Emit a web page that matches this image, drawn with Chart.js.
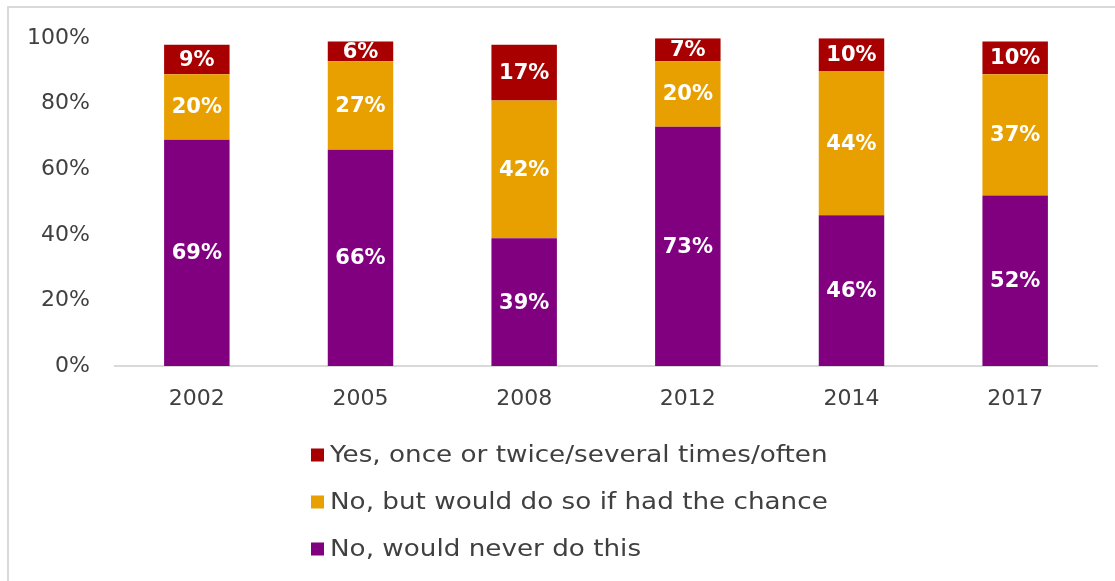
<!DOCTYPE html>
<html>
<head>
<meta charset="utf-8">
<script src="https://cdn.jsdelivr.net/npm/chart.js@4/dist/chart.umd.min.js"></script>
<style>
  html, body { margin: 0; padding: 0; background: #fff; overflow: hidden; }
  #wrap { position: relative; width: 1115px; height: 581px; overflow: hidden; }
  .edge { position: absolute; background: #d9d9d9; pointer-events: none; }
  #edgeLeft { left: 7px; top: 6px; width: 2px; height: 600px; }
  #edgeTop { left: 7px; top: 6px; width: 1200px; height: 2px; }
  canvas { position: absolute; left: 0; top: 0; }
</style>
</head>
<body>
<div id="wrap">
  <canvas id="chart" width="1115" height="581"></canvas>
  <div class="edge" id="edgeLeft"></div>
  <div class="edge" id="edgeTop"></div>
</div>
<script>
const years = ['2002', '2005', '2008', '2012', '2014', '2017'];
const neverValues = [69, 66, 39, 73, 46, 52];
const wouldValues = [20, 27, 42, 20, 44, 37];
const yesValues = [9, 6, 17, 7, 10, 10];
const yTicks = [0, 20, 40, 60, 80, 100];

const FONT = 'DejaVu Sans';
const TEXT = '#404040';

// White value labels centred inside each stacked segment
const segmentLabels = {
  id: 'segmentLabels',
  afterDatasetsDraw(chart) {
    const ctx = chart.ctx;
    ctx.save();
    ctx.fillStyle = '#ffffff';
    ctx.font = 'bold 21px "' + FONT + '"';
    ctx.textAlign = 'center';
    ctx.textBaseline = 'middle';
    chart.data.datasets.forEach((ds, i) => {
      const meta = chart.getDatasetMeta(i);
      meta.data.forEach((bar, j) => {
        const cy = (bar.y + bar.base) / 2;
        ctx.fillText(ds.data[j] + '%', bar.x, cy + 1);
      });
    });
    ctx.restore();
  }
};

// Single-column legend under the axis, top series first; text is drawn
// slightly widened to give the broad, round look of a geometric face
const columnLegend = {
  id: 'columnLegend',
  afterDraw(chart) {
    const ctx = chart.ctx;
    const ds = chart.data.datasets.slice().reverse();
    const x0 = 311, y0 = 455, gap = 47, box = 13, stretch = 1.14;
    ctx.save();
    ctx.font = '23px "' + FONT + '"';
    ctx.textBaseline = 'middle';
    ctx.textAlign = 'left';
    ds.forEach((d, i) => {
      const y = y0 + i * gap;
      ctx.fillStyle = d.backgroundColor;
      ctx.fillRect(x0, y - box / 2, box, box);
      ctx.save();
      ctx.translate(x0 + box + 6, y + 1);
      ctx.scale(stretch, 1);
      ctx.fillStyle = TEXT;
      ctx.fillText(d.label, 0, 0);
      ctx.restore();
    });
    ctx.restore();
  }
};

new Chart(document.getElementById('chart'), {
  type: 'bar',
  data: {
    labels: years,
    datasets: [
      { label: 'No, would never do this', data: neverValues, backgroundColor: '#800080' },
      { label: 'No, but would do so if had the chance', data: wouldValues, backgroundColor: '#E8A000' },
      { label: 'Yes, once or twice/several times/often', data: yesValues, backgroundColor: '#A80000' }
    ]
  },
  options: {
    responsive: false,
    animation: false,
    devicePixelRatio: 1,
    layout: { padding: { left: 0, right: 18, top: 38, bottom: 0 } },
    datasets: { bar: { barPercentage: 1, categoryPercentage: 0.4 } },
    plugins: { legend: { display: false }, tooltip: { enabled: false } },
    scales: {
      x: {
        stacked: true,
        grid: { display: false, drawTicks: false },
        border: { display: true, color: '#d9d9d9', width: 2 },
        ticks: { color: TEXT, font: { family: FONT, size: 22 }, padding: 20 },
        afterFit(scale) { scale.height = 215; }
      },
      y: {
        stacked: true,
        min: 0, max: 100,
        afterBuildTicks(scale) { scale.ticks = yTicks.map(v => ({ value: v })); },
        grid: { display: false, drawTicks: false },
        border: { display: false },
        ticks: { color: TEXT, font: { family: FONT, size: 22 }, padding: 25,
                 callback: v => v + '%' },
        afterFit(scale) { scale.width = 115; }
      }
    }
  },
  plugins: [segmentLabels, columnLegend]
});
</script>
</body>
</html>
